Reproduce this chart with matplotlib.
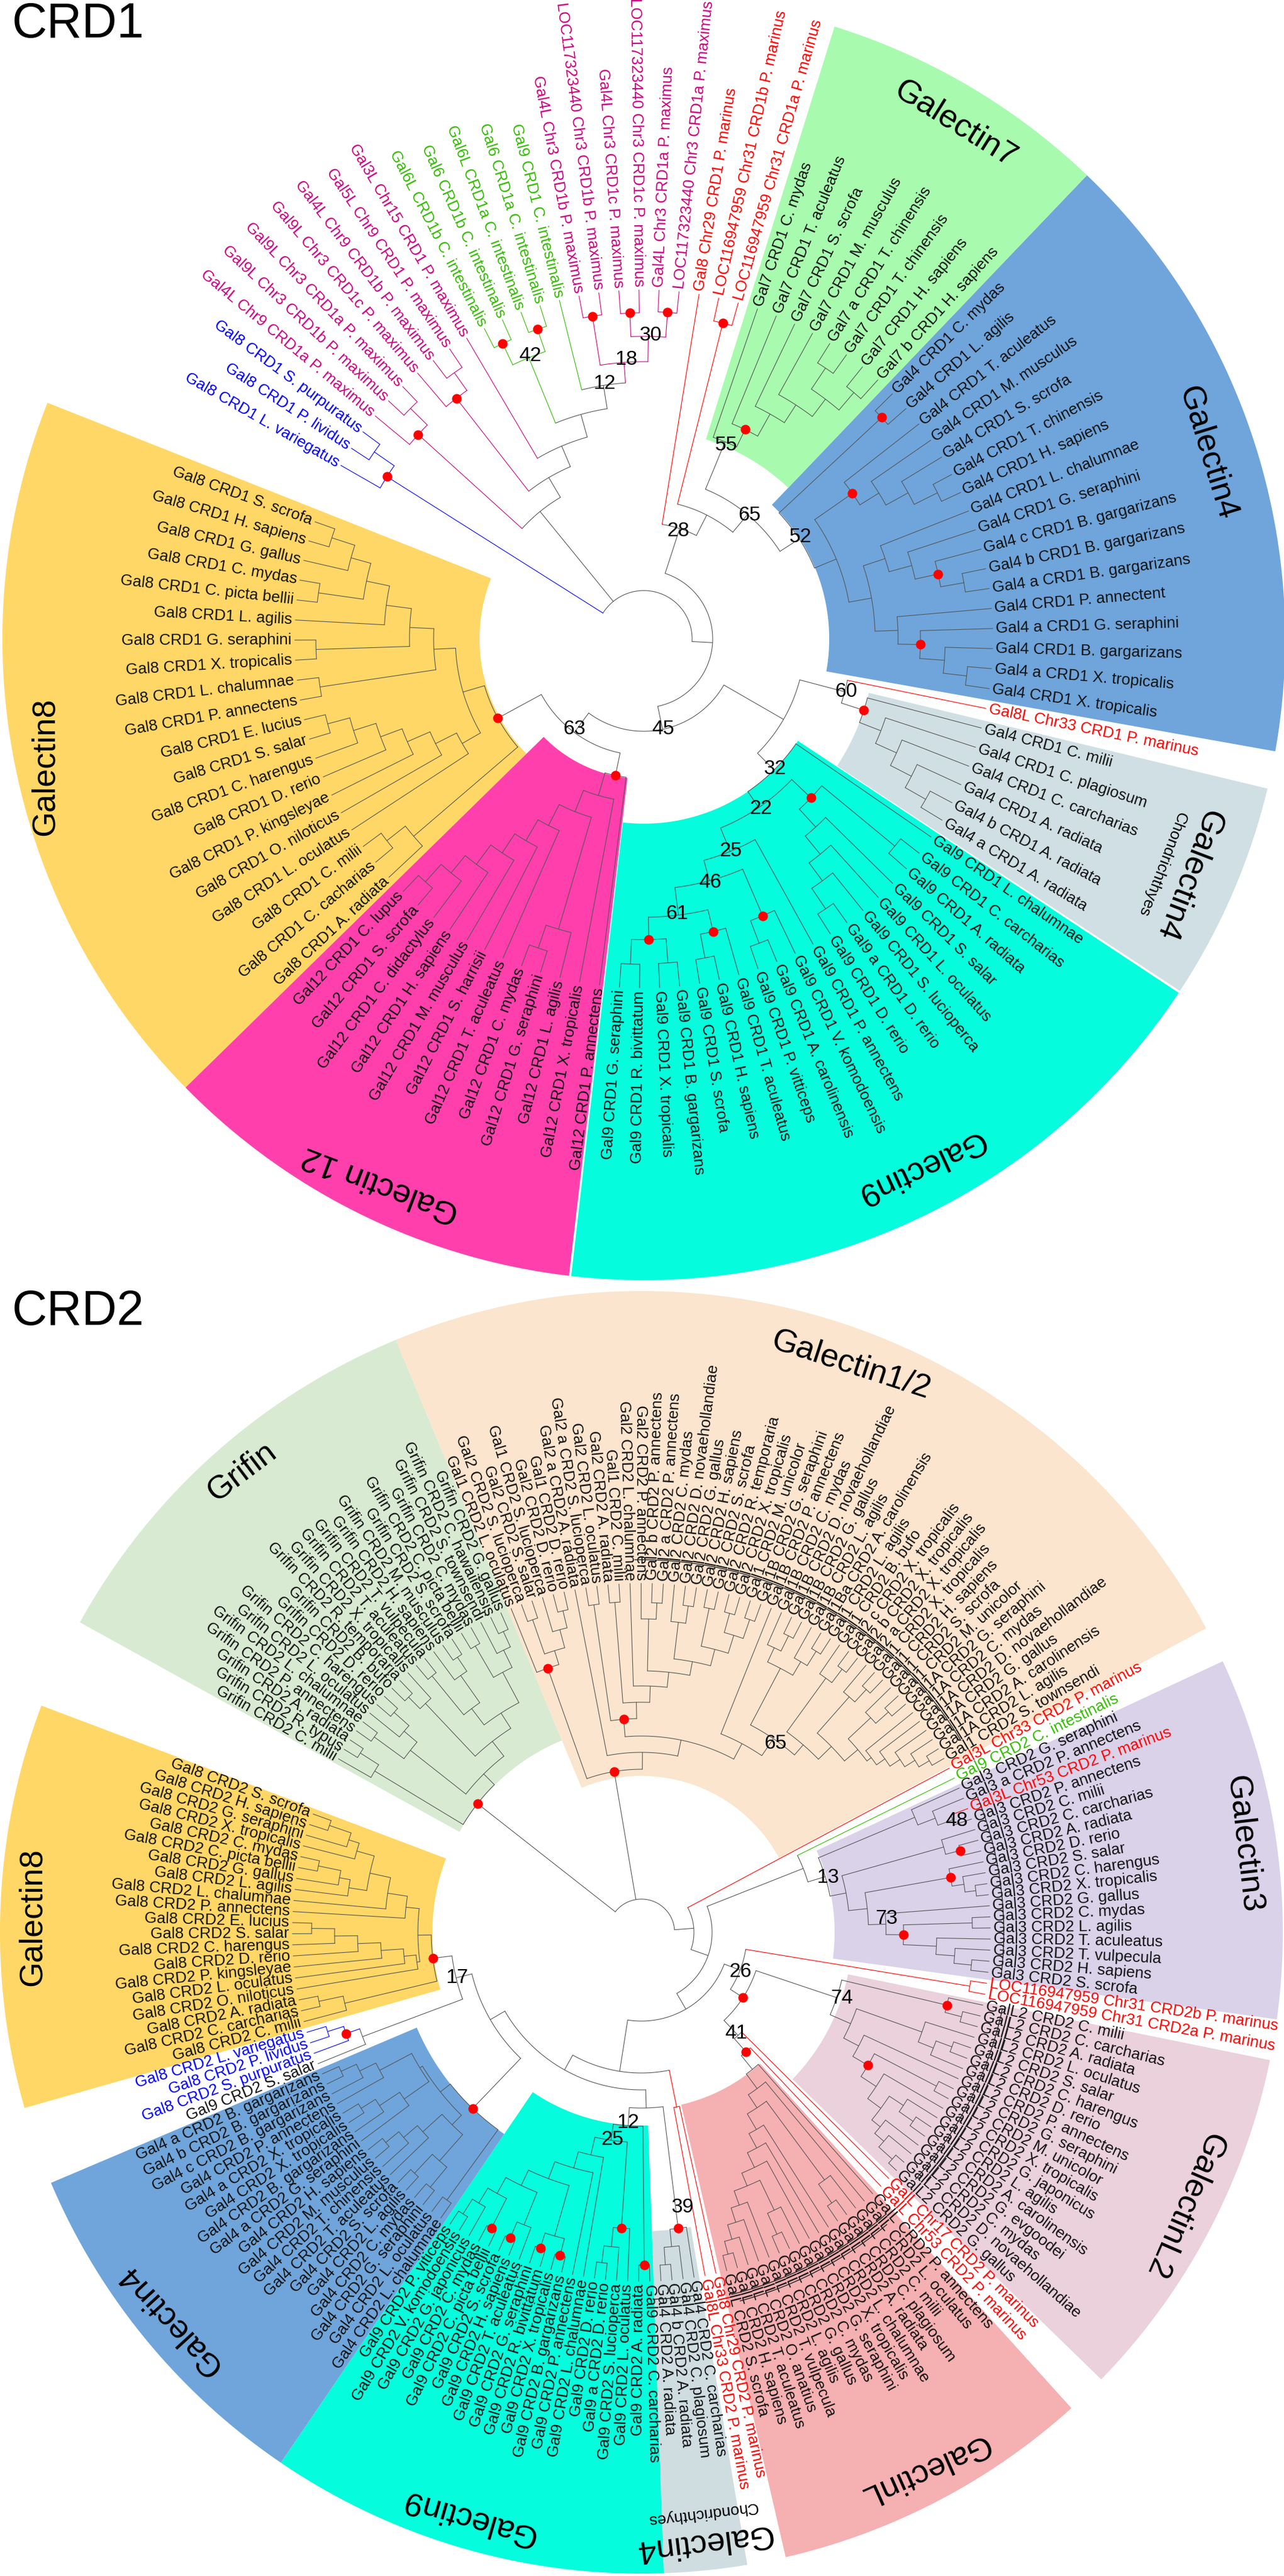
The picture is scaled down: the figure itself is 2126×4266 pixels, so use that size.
import re
import numpy as np
import matplotlib
matplotlib.use("Agg")
import matplotlib.pyplot as plt
from matplotlib.patches import Polygon

plt.rcParams['font.family'] = ['Liberation Sans', 'DejaVu Sans']

BLUE = "#0000ff"
MAGENTA = "#cc0080"
GREEN = "#33bb00"
RED = "#ff0000"
GREY = "#555555"
BLACK = "#111111"

# ---- CRD1 leaves, clockwise ----
blue1 = ["Gal8 CRD1 L. variegatus", "Gal8 CRD1 P. lividus", "Gal8 CRD1 S. purpuratus"]
mag1a = ["Gal4L Chr9 CRD1a P. maximus", "Gal9L Chr3 CRD1b P. maximus", "Gal9L Chr3 CRD1a P. maximus"]
mag1b = ["Gal9L Chr3 CRD1c P. maximus", "Gal4L Chr9 CRD1b P. maximus", "Gal5L Chr9 CRD1 P. maximus"]
mag1g = ["Gal3L Chr15 CRD1 P. maximus"]
green1 = ["Gal6L CRD1b C. intestinalis", "Gal6 CRD1b C. intestinalis", "Gal6L CRD1a C. intestinalis", "Gal6 CRD1a C. intestinalis"]
green1s = ["Gal9 CRD1 C. intestinalis"]
mag1c = ["Gal4L Chr3 CRD1b P. maximus", "LOC117323440 Chr3 CRD1b P. maximus", "Gal4L Chr3 CRD1c P. maximus",
         "LOC117323440 Chr3 CRD1c P. maximus", "Gal4L Chr3 CRD1a P. maximus", "LOC117323440 Chr3 CRD1a P. maximus"]
red1a = ["Gal8 Chr29 CRD1 P. marinus"]
red1b = ["LOC116947959 Chr31 CRD1b P. marinus", "LOC116947959 Chr31 CRD1a P. marinus"]
gal7_1 = ["Gal7 CRD1 C. mydas", "Gal7 CRD1 T. aculeatus", "Gal7 CRD1 S. scrofa", "Gal7 CRD1 M. musculus",
          "Gal7 a CRD1 T. chinensis", "Gal7 CRD1 T. chinensis", "Gal7 CRD1 H. sapiens", "Gal7 b CRD1 H. sapiens"]
gal4_1 = ["Gal4 CRD1 C. mydas", "Gal4 CRD1 L. agilis", "Gal4 CRD1 T. aculeatus", "Gal4 CRD1 M. musculus", "Gal4 CRD1 S. scrofa",
          "Gal4 CRD1 T. chinensis", "Gal4 CRD1 H. sapiens", "Gal4 CRD1 L. chalumnae", "Gal4 CRD1 G. seraphini",
          "Gal4 c CRD1 B. gargarizans", "Gal4 b CRD1 B. gargarizans", "Gal4 a CRD1 B. gargarizans", "Gal4 CRD1 P. annectent",
          "Gal4 a CRD1 G. seraphini", "Gal4 CRD1 B. gargarizans", "Gal4 a CRD1 X. tropicalis", "Gal4 CRD1 X. tropicalis"]
red1c = ["Gal8L Chr33 CRD1 P. marinus"]
chon1 = ["Gal4 CRD1 C. milii", "Gal4 CRD1 C. plagiosum", "Gal4 CRD1 C. carcharias", "Gal4 CRD1 A. radiata",
         "Gal4 b CRD1 A. radiata", "Gal4 a CRD1 A. radiata"]
gal9_1 = ["Gal9 CRD1 L. chalumnae", "Gal9 CRD1 C. carcharias", "Gal9 CRD1 A. radiata", "Gal9 CRD1 S. salar", "Gal9 CRD1 L. oculatus",
          "Gal9 CRD1 S. lucioperca", "Gal9 a CRD1 D. rerio", "Gal9 CRD1 D. rerio", "Gal9 CRD1 P. annectens", "Gal9 CRD1 V. komodoensis",
          "Gal9 CRD1 A. carolinensis", "Gal9 CRD1 P. vitticeps", "Gal9 CRD1 T. aculeatus", "Gal9 CRD1 H. sapiens", "Gal9 CRD1 S. scrofa",
          "Gal9 CRD1 B. gargarizans", "Gal9 CRD1 X. tropicalis", "Gal9 CRD1 R. bivittatum", "Gal9 CRD1 G. seraphini"]
gal12_1 = ["Gal12 CRD1 P. annectens", "Gal12 CRD1 X. tropicalis", "Gal12 CRD1 L. agilis", "Gal12 CRD1 G. seraphini", "Gal12 CRD1 C. mydas",
           "Gal12 CRD1 T. aculeatus", "Gal12 CRD1 S. harrisii", "Gal12 CRD1 M. musculus", "Gal12 CRD1 H. sapiens",
           "Gal12 CRD1 C. didactylus", "Gal12 CRD1 S. scrofa", "Gal12 CRD1 C. lupus"]
gal8_1 = ["Gal8 CRD1 A. radiata", "Gal8 CRD1 C. cacharias", "Gal8 CRD1 C. milii", "Gal8 CRD1 L. oculatus", "Gal8 CRD1 O. niloticus",
          "Gal8 CRD1 P. kingsleyae", "Gal8 CRD1 D. rerio", "Gal8 CRD1 C. harengus", "Gal8 CRD1 S. salar", "Gal8 CRD1 E. lucius",
          "Gal8 CRD1 P. annectens", "Gal8 CRD1 L. chalumnae", "Gal8 CRD1 X. tropicalis", "Gal8 CRD1 G. seraphini", "Gal8 CRD1 L. agilis",
          "Gal8 CRD1 C. picta bellii", "Gal8 CRD1 C. mydas", "Gal8 CRD1 G. gallus", "Gal8 CRD1 H. sapiens", "Gal8 CRD1 S. scrofa"]

# ---- CRD2 leaves, clockwise ----
grifin_2 = ["Grifin CRD2 C. milii", "Grifin CRD2 R. typus", "Grifin CRD2 A. radiata", "Grifin CRD2 P. annectens", "Grifin CRD2 L. chalumnae",
            "Grifin CRD2 L. oculatus", "Grifin CRD2 C. harengus", "Grifin CRD2 D. rerio", "Grifin CRD2 B. bufo", "Grifin CRD2 R. temporaria",
            "Grifin CRD2 X. tropicalis", "Grifin CRD2 T. aculeatus", "Grifin CRD2 T. vulpecula", "Grifin CRD2 H. sapiens", "Grifin CRD2 M. musculus",
            "Grifin CRD2 S. scrofa", "Grifin CRD2 C. picta bellii", "Grifin CRD2 C. mydas", "Grifin CRD2 S. townsendi", "Grifin CRD2 C. hawaiiensis",
            "Grifin CRD2 G. gallus"]
gal12_2 = ["Gal1 CRD2 L. oculatus", "Gal2 CRD2 S. lucioperca", "Gal2 CRD2 S. salar", "Gal1 CRD2 S. lucioperca", "Gal2 CRD2 D. rerio",
           "Gal1 CRD2 D. rerio", "Gal2 a CRD2 A. radiata", "Gal2 a CRD2 S. lucioperca", "Gal2 CRD2 L. oculatus", "Gal2 CRD2 A. radiata",
           "Gal1 CRD2 C. milii", "Gal2 CRD2 L. chalumnae", "Gal2 CRD2 P. annectens", "Gal2 b CRD2 P. annectens", "Gal2 a CRD2 P. annectens",
           "Gal2 CRD2 C. mydas", "Gal2 CRD2 D. novaehollandiae", "Gal2 CRD2 G. gallus", "Gal2 CRD2 H. sapiens", "Gal2 CRD2 S. scrofa",
           "Gal2 CRD2 R. temporaria", "Gal2 CRD2 X. tropicalis", "Gal1 CRD2 M. unicolor", "Gal1B CRD2 G. seraphini", "Gal1B CRD2 P. annectens",
           "Gal1B CRD2 C. mydas", "Gal1B CRD2 D. novaehollandiae", "Gal1B CRD2 G. gallus", "Gal1B CRD2 L. agilis", "Gal1Ba CRD2 A. carolinensis",
           "Gal1 CRD2 L. agilis", "Gal1 CRD2 B. bufo", "Gal2 c CRD2 X. tropicalis", "Gal2 b CRD2 X. tropicalis", "Gal2 a CRD2 X. tropicalis",
           "Gal1 CRD2 X. tropicalis", "Gal1 CRD2 H. sapiens", "Gal1 CRD2 S. scrofa", "Gal1 CRD2 M. unicolor", "Gal1A CRD2 G. seraphini",
           "Gal1A CRD2 C. mydas", "Gal1A CRD2 D. novaehollandiae", "Gal1A CRD2 G. gallus", "Gal1A CRD2 A. carolinensis", "Gal1A CRD2 L. agilis",
           "Gal1 CRD2 S. townsendi"]
red2a = ["Gal3L Chr33 CRD2 P. marinus"]
green2 = ["Gal9 CRD2 C. intestinalis"]
red2b = ["Gal3L Chr53 CRD2 P. marinus"]
gal3_a = ["Gal3 CRD2 G. seraphini"]
gal3_b = ["Gal3 a CRD2 P. annectens"]
gal3_p = ["Gal3 CRD2 P. annectens"]
gal3_r = ["Gal3 CRD2 C. milii", "Gal3 CRD2 C. carcharias", "Gal3 CRD2 A. radiata", "Gal3 CRD2 D. rerio",
          "Gal3 CRD2 S. salar", "Gal3 CRD2 C. harengus", "Gal3 CRD2 X. tropicalis", "Gal3 CRD2 G. gallus", "Gal3 CRD2 C. mydas",
          "Gal3 CRD2 L. agilis", "Gal3 CRD2 T. aculeatus", "Gal3 CRD2 T. vulpecula", "Gal3 CRD2 H. sapiens", "Gal3 CRD2 S. scrofa"]
red2c = ["LOC116947959 Chr31 CRD2b P. marinus", "LOC116947959 Chr31 CRD2a P. marinus"]
galL2_2 = ["GalL2 CRD2 C. milii", "GalL2 CRD2 C. carcharias", "GalL2 CRD2 A. radiata", "GalL2 CRD2 L. oculatus", "GalL2 CRD2 S. salar",
           "GalL2 CRD2 C. harengus", "GalL2 CRD2 D. rerio", "GalL2 CRD2 P. annectens", "GalL2 CRD2 G. seraphini", "GalL2 CRD2 M. unicolor",
           "GalL2 CRD2 X. tropicalis", "GalL2 CRD2 G. japonicus", "GalL2 CRD2 L. agilis", "GalL2 CRD2 A. carolinensis", "GalL2 CRD2 G. evgoodei",
           "GalL2 CRD2 C. mydas", "GalL2 CRD2 D. novaehollandiae", "GalL2 CRD2 G. gallus"]
red2d = ["GalL Chr17 CRD2 P. marinus"]
red2e = ["GalL Chr53 CRD2 P. marinus"]
galL_2 = ["GalL CRD2 P. annectens", "GalL CRD2 L. oculatus", "GalL CRD2 C. milii", "GalL CRD2 C. plagiosum", "GalL CRD2 A. radiata",
          "GalL CRD2 L. chalumnae", "GalL CRD2 X. tropicalis", "GalL CRD2 G. seraphini", "GalL CRD2 C. mydas", "GalL CRD2 G. gallus",
          "GalL CRD2 L. agilis", "GalL CRD2 T. vulpecula", "GalL CRD2 O. anatius", "GalL CRD2 T. aculeatus", "GalL CRD2 H. sapiens",
          "GalL CRD2 S. scrofa"]
red2f = ["Gal8 Chr29 CRD2 P. marinus", "Gal8L Chr33 CRD2 P. marinus"]
chon2 = ["Gal4 CRD2 C. carcharias", "Gal4 CRD2 C. plagiosum", "Gal4 b CRD2 A. radiata", "Gal4 CRD2 A. radiata"]
gal9_2 = ["Gal9 CRD2 C. carcharias", "Gal9 CRD2 A. radiata", "Gal9 CRD2 L. oculatus", "Gal9 CRD2 S. lucioperca", "Gal9 a CRD2 D. rerio",
          "Gal9 CRD2 D. rerio", "Gal9 CRD2 L. chalumnae", "Gal9 CRD2 P. annectens", "Gal9 CRD2 B. gargarizans", "Gal9 CRD2 X. tropicalis",
          "Gal9 CRD2 R. bivittatum", "Gal9 CRD2 G. seraphini", "Gal9 CRD2 T. aculeatus", "Gal9 CRD2 H. sapiens", "Gal9 CRD2 S. scrofa",
          "Gal9 CRD2 C. picta bellii", "Gal9 CRD2 C. mydas", "Gal9 CRD2 G. japonicus", "Gal9 CRD2 V. komodoensis", "Gal9 CRD2 P. viticeps"]
gal4_2 = ["Gal4 CRD2 L. chalumnae", "Gal4 CRD2 L. oculatus", "Gal4 CRD2 G. seraphini", "Gal4 CRD2 C. mydas", "Gal4 CRD2 L. agilis",
          "Gal4 CRD2 S. scrofa", "Gal4 CRD2 T. aculeatus", "Gal4 CRD2 T. chinensis", "Gal4 CRD2 M. musculus", "Gal4 CRD2 H. sapiens",
          "Gal4 a CRD2 G. seraphini", "Gal4 CRD2 B. gargarizans", "Gal4 CRD2 X. tropicalis", "Gal4 a CRD2 X. tropicalis", "Gal4 CRD2 P. annectens",
          "Gal4 c CRD2 B. gargarizans", "Gal4 b CRD2 B. gargarizans", "Gal4 a CRD2 B. gargarizans"]
salar2 = ["Gal9 CRD2 S. salar"]
blue2 = ["Gal8 CRD2 S. purpuratus", "Gal8 CRD2 P. lividus", "Gal8 CRD2 L. variegatus"]
gal8_2 = ["Gal8 CRD2 C. milii", "Gal8 CRD2 C. carcharias", "Gal8 CRD2 A. radiata", "Gal8 CRD2 O. niloticus", "Gal8 CRD2 L. oculatus",
          "Gal8 CRD2 P. kingsleyae", "Gal8 CRD2 D. rerio", "Gal8 CRD2 C. harengus", "Gal8 CRD2 S. salar", "Gal8 CRD2 E. lucius",
          "Gal8 CRD2 P. annectens", "Gal8 CRD2 L. chalumnae", "Gal8 CRD2 L. agilis", "Gal8 CRD2 G. gallus", "Gal8 CRD2 C. picta bellii",
          "Gal8 CRD2 C. mydas", "Gal8 CRD2 X. tropicalis", "Gal8 CRD2 G. seraphini", "Gal8 CRD2 H. sapiens", "Gal8 CRD2 S. scrofa"]

# tree shapes: x = next leaf, number after ) = node radius in px, * = red dot, {k} = another piece
pieces = {
    "blue1": (blue1, "(x,(x,x)543)503*", BLUE),
    "mag1a": (mag1a, "(x,(x,x)543)504*", MAGENTA),
    "mag1b": (mag1b, "(x,(x,x)541)505*", MAGENTA),
    "mag1g": (mag1g, "x", MAGENTA),
    "green1": (green1, "((x,x)542*,(x,x)542*)503", GREEN),
    "green1s": (green1s, "x", GREEN),
    "mag1c": (mag1c, "((x,x)541*,((x,x)540*,(x,x)542*)501)459", MAGENTA),
    "red1a": (red1a, "x", RED),
    "red1b": (red1b, "(x,x)539*", RED),
    "gal7_1": (gal7_1, "(x,(x,(x,(x,((x,x)540,(x,x)536)498)462)427)385*)353", BLACK),
    "gal4_1": (gal4_1, "((x,x)538*,((x,(x,(x,(x,x)543)500)458)421*,((x,(x,(x,(x,x)538)499*)460)421,"
                       "(x,(x,(x,(x,x)538)499)458*)421)383)345)306", BLACK),
    "red1c": (red1c, "x", RED),
    "chon1": (chon1, "(x,(x,(x,(x,(x,x)537)498)459)421)383*", BLACK),
    "gal9_1": (gal9_1, "(x,(((x,x)539,(x,(x,(x,(x,x)539)498)461)422)382*,(x,((x,(x,x)539)499*,"
                       "((x,(x,x)538)498*,((x,x)538,(x,x)539)498*)461)415)380)338)306", BLACK),
    "gal12_1": (gal12_1, "(x,(x,((x,(x,x)541)501,(x,(x,(x,(x,(x,(x,x)541)502)465)425)387)347)308)270)231*", BLACK),
    "gal8_1": (gal8_1, "((x,(x,x)541)502,((x,(x,(x,(x,(x,(x,x)542)504)465)427)386)347,((x,x)542,"
                       "((x,x)543,(x,((x,x)544,(x,(x,x)543)503)469)430)388)348)312)275*", BLACK),

    "grifin_2": (grifin_2, "((x,(x,x)552)516,(((x,x)548,(x,(x,x)548)515)487,(((x,x)548,x)521,"
                           "(((x,x)548,(x,(x,x)548)520)465,((x,x)548,(x,(x,x)548)520)488)431)401)370)345*", BLACK),
    "gal12_2": (gal12_2, "((x,((x,x)548,(x,(x,x)548)519)488)464*,(x,(((x,x)548,((x,x)548,(x,((x,(x,x)546)519,"
                         "((x,(x,x)546)517,((x,x)548,((x,x)548,(x,x)548)515)484)456)433)408)381)354*,"
                         "(x,(((x,(x,x)548)520,(x,(x,x)548)520)494,((x,(x,x)548)520,((x,(x,x)548)520,"
                         "((x,(x,x)548)520,(x,(x,(x,(x,(x,x)555)535)515)495)478)469)440)410)388)354)325)298)270*", BLACK),
    "red2a": (red2a, "x", RED),
    "green2": (green2, "x", GREEN),
    "red2b": (red2b, "x", RED),
    "gal3a": (gal3_a, "x", BLACK),
    "gal3b": (gal3_b, "x", BLACK),
    "gal3p": (gal3_p, "x", BLACK),
    "gal3r": (gal3_r, "((x,(x,x)545*)520,((x,(x,(x,x)558)540)520*,(x,((x,x)548,(x,(x,(x,x)549)520)489)434*)405)376)345", BLACK),
    "gal3": ([], "(({gal3a},({gal3b},({red2b},{gal3p})548)522)491,{gal3r})318", BLACK),
    "red2c": (red2c, "(x,x)551", RED),
    "galL2_2": (galL2_2, "((x,(x,x)548)520*,((x,((x,x)548,x)520)493,(x,((x,x)551,(x,((x,(x,x)548)520,(x,(x,(x,x)560)530)510)492)465)435*)406)378)341", BLACK),
    "red2d": (red2d, "x", RED),
    "red2e": (red2e, "x", RED),
    "galL_2": (galL_2, "(x,(x,((x,(x,x)548)510,(x,(x,(x,((x,(x,x)548)510,(x,(x,(x,(x,x)552)530)505)480)455)432)405)378)348)322)292", BLACK),
    "red2f": (red2f, "(x,x)295", RED),
    "chon2": (chon2, "(x,(x,(x,x)552)523)494*", BLACK),
    "gal9_2": (gal9_2, "((x,x)551*,((x,(x,(x,x)551)523)491*,(x,(x,(((x,x)552*,(x,x)549*)523,((x,(x,x)551*)522,"
                       "((x,x)549*,(x,(x,x)552)523)494)464)436)406)378)348)321", BLACK),
    "gal4_2": (gal4_2, "((x,x)548,(((( x,x)548,(x,x)548)505,(x,(x,(x,x)548)520)490)447,"
                       "((x,(x,(x,x)548)520)480,(x,(x,(x,x)548)520)490)430)425)404*", BLACK),
    "salar2": (salar2, "x", BLACK),
    "blue2": (blue2, "(x,(x,x)545)517*", BLUE),
    "gal8_2": (gal8_2, "((x,(x,x)546)505,((x,(x,(x,(x,(x,(x,x)546)508)470)432)395)375,(x,(x,((x,(x,(x,x)546)508)490,"
                       "(x,(x,(x,x)546)508)490)460)425)392)370)348*", BLACK),
}

crd1_back = "({blue1},({mag1a},({mag1b},({mag1g},({green1},({green1s},{mag1c})425)386)347)310)272," \
            "(({red1a},({red1b},({gal7_1},{gal4_1})268)230)192,((({red1c},{chon1})344,{gal9_1})267,({gal12_1},{gal8_1})193)153)114)80"
crd2_back = "({grifin_2},{gal12_2},({red2a},(({green2},{gal3})288,(({red2c},({galL2_2},({red2d},({red2e},{galL_2})263*)234)200*)175," \
            "({red2f},(({chon2},{gal9_2})291,({gal4_2},(({salar2},{blue2})493,{gal8_2})316)289)261)233)147)117)87)55"

# wedge: colour, first angle, last angle, inner radius
wedges1 = [("#ffd766", -135.6, -201.6, 272), ("#ff40ac", -96.7, -135.6, 232), ("#05fcdc", -33.5, -96.5, 306),
           ("#d0dfe3", -13.5, -33.3, 383), ("#6fa5db", 46.3, -10.1, 307), ("#a8fbae", 72.7, 46.3, 346)]
wedges2 = [("#d9ead3", 151.1, 112.5, 344), ("#fbe5ce", 112.5, 28.3, 259), ("#d9d2e9", 25.0, -7.8, 320),
           ("#ead1dc", -11.5, -44.2, 349), ("#f5b0b2", -47.9, -77.0, 293), ("#cfdde1", -80.5, -88.0, 495),
           ("#05fcdc", -88.0, -124.2, 320), ("#6fa5db", -124.2, -157.0, 404), ("#ffd766", -164.1, -200.7, 346)]

# dark strokes that run through the CRD2 label roots
rules2 = [(617, 91, 31), (600, 22, -7), (611, -12, -42), (626, -13, -41), (618, -49, -76), (632, -50, -75), (608, -81, -88)]

titles1 = [("Galectin7", 1582, 205, -32), ("Galectin4", 2000, 750, -73), ("Galectin8", 75, 1270, 90), ("Galectin 12", 630, 1961, 159),
           ("Galectin9", 1524, 1933, 205), ("Galectin4", 1968, 1449, -111)]
titles2 = [("Galectin1/2", 1409, 2261, -18), ("Grifin", 400, 2438, 37), ("Galectin3", 2060, 3054, -83.5), ("GalectinL2", 1961, 3652, -113.5),
           ("GalectinL", 1531, 4091, 204), ("Galectin4", 1165, 4210, 187), ("Galectin9", 776, 4169, 164), ("Galectin4", 281, 3843, 132.5),
           ("Galectin8", 54, 3175, 90)]
small_titles = [("Chondrichthyes", 1924, 1431, -111), ("Chondrichthyes", 1163, 4162, 187)]
supports = [("42", 878, 590), ("18", 1037, 595), ("12", 1001, 636), ("30", 1077, 555), ("55", 1202, 737), ("65", 1241, 853), ("28", 1123, 879),
            ("52", 1325, 889), ("63", 951, 1207), ("45", 1098, 1208), ("60", 1401, 1145), ("32", 1283, 1274), ("22", 1260, 1340), ("25", 1210, 1409),
            ("46", 1176, 1462), ("61", 1121, 1514),
            ("65", 1284, 2887), ("13", 1371, 3109), ("48", 1584, 3016), ("73", 1468, 3178), ("17", 757, 3276), ("26", 1226, 3265), ("41", 1219, 3368),
            ("74", 1394, 3310), ("12", 1040, 3516), ("25", 1014, 3543), ("39", 1130, 3656)]

W, H = 2126, 4266
fig = plt.figure(figsize=(W / 100, H / 100), dpi=100)
ax = fig.add_axes([0, 0, 1, 1])
ax.set_xlim(0, W)
ax.set_ylim(H, 0)
ax.axis("off")

TIP = 578


def parse(tokens, pos, names, color):
    t = tokens[pos]
    if t == "x":
        return {"name": next(names), "color": color, "kids": [], "dot": False}, pos + 1
    if t.startswith("{"):
        sub_names, shape, sub_color = pieces[t[1:-1]]
        return tree_from(shape, sub_names, sub_color), pos + 1
    kids = []
    pos += 1
    while tokens[pos] != ")":
        if tokens[pos] == ",":
            pos += 1
            continue
        kid, pos = parse(tokens, pos, names, color)
        kids.append(kid)
    pos += 1
    node = {"kids": kids, "color": color, "dot": False, "r": 0}
    if pos < len(tokens) and tokens[pos][0].isdigit():
        node["r"] = int(tokens[pos].rstrip("*"))
        node["dot"] = tokens[pos].endswith("*")
        pos += 1
    return node, pos


def tree_from(shape, names, color):
    tokens = re.findall(r"\(|\)|,|x|\{\w+\}|\d+\*?", shape)
    node, _ = parse(tokens, 0, iter(names), color)
    return node


def pt(c, r, phi):
    a = np.radians(phi)
    return c[0] + r * np.cos(a), c[1] - r * np.sin(a)


def place(node, state):
    if not node["kids"]:
        node["phi"] = state["phi"]
        node["r"] = TIP
        state["phi"] -= state["step"]
    else:
        for k in node["kids"]:
            place(k, state)
        node["phi"] = (node["kids"][0]["phi"] + node["kids"][-1]["phi"]) / 2


def draw(node, c):
    if not node["kids"]:
        phi = node["phi"]
        x, y = pt(c, TIP + 5, phi)
        a = (phi + 180) % 360 - 180
        if -90 <= a <= 90:
            ax.text(x, y, node["name"], rotation=a, rotation_mode="anchor", ha="left", va="center",
                    fontsize=18.8, color=node["color"], zorder=5)
        else:
            ax.text(x, y, node["name"], rotation=a - 180, rotation_mode="anchor", ha="right", va="center",
                    fontsize=18.8, color=node["color"], zorder=5)
        return
    col = GREY if node["color"] == BLACK else node["color"]
    angs = np.linspace(node["kids"][0]["phi"], node["kids"][-1]["phi"], 60)
    xy = np.array([pt(c, node["r"], a) for a in angs])
    ax.plot(xy[:, 0], xy[:, 1], color=col, lw=0.8, zorder=3, solid_capstyle="round")
    for k in node["kids"]:
        kc = GREY if k["color"] == BLACK else k["color"]
        p0, p1 = pt(c, node["r"], k["phi"]), pt(c, k["r"], k["phi"])
        ax.plot([p0[0], p1[0]], [p0[1], p1[1]], color=kc, lw=0.8, zorder=3, solid_capstyle="round")
        draw(k, c)
    if node["dot"]:
        x, y = pt(c, node["r"], node["phi"])
        ax.plot([x], [y], "o", color=RED, ms=11.5, mew=0, zorder=4)


def draw_wedges(wedges, c, outer):
    for col, a0, a1, rin in wedges:
        angs = np.linspace(a0, a1, 200)
        ring = [pt(c, outer, a) for a in angs] + [pt(c, rin, a) for a in angs[::-1]]
        ax.add_patch(Polygon(ring, closed=True, facecolor=col, edgecolor="none", zorder=1))


C1 = (1066, 1058)
C2 = (1062, 3200)
draw_wedges(wedges1, C1, 1062)
draw_wedges(wedges2, C2, 1062)

tree1 = tree_from(crd1_back, [], GREY)
place(tree1, {"phi": 150.2, "step": 3.3})
draw(tree1, C1)

tree2 = tree_from(crd2_back, [], GREY)
place(tree2, {"phi": 150.2, "step": 1.823})
draw(tree2, C2)

for r, a0, a1 in rules2:
    angs = np.linspace(a0, a1, 80)
    xy = np.array([pt(C2, r, a) for a in angs])
    ax.plot(xy[:, 0], xy[:, 1], color="#222222", lw=1.0, zorder=6)

ax.text(20, 62, "CRD1", fontsize=58, ha="left", va="baseline", color="black")
ax.text(20, 2194, "CRD2", fontsize=58, ha="left", va="baseline", color="black")
for s, x, y, rot in titles1 + titles2:
    ax.text(x, y, s, fontsize=39, rotation=rot, rotation_mode="anchor", ha="center", va="center", color="black", zorder=6)
for s, x, y, rot in small_titles:
    ax.text(x, y, s, fontsize=19, rotation=rot, rotation_mode="anchor", ha="center", va="center", color="black", zorder=6)
for s, x, y in supports:
    ax.text(x, y, s, fontsize=24, ha="center", va="center", color="black", zorder=7)

fig.savefig("out.png", dpi=100, facecolor="white")
